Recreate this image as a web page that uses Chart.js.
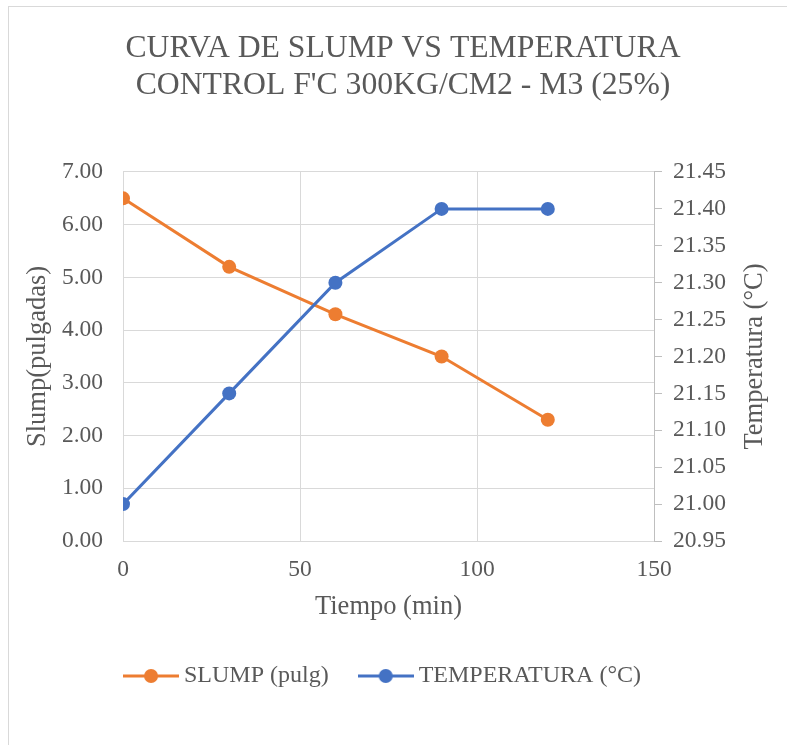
<!DOCTYPE html>
<html>
<head>
<meta charset="utf-8">
<script src="https://cdn.jsdelivr.net/npm/chart.js@4.4.0/dist/chart.umd.min.js"></script>
<style>
  html, body { margin: 0; padding: 0; background: #fff; overflow: hidden; width: 787px; height: 745px; }
  #frame { position: absolute; left: 8px; top: 6px; width: 800px; height: 760px; border: 1px solid #d9d9d9; }
  #chart { display: block; }
</style>
</head>
<body>
<div id="frame"><canvas id="chart" width="800" height="760"></canvas></div>
<script>
// Datos del ensayo
const tiempos = [0, 30, 60, 90, 120];
const slump = [6.5, 5.2, 4.3, 3.5, 2.3];
const temperatura = [21.00, 21.15, 21.30, 21.40, 21.40];
const nombres = ['SLUMP (pulg)', 'TEMPERATURA (°C)'];
const titulo = ['CURVA DE SLUMP VS TEMPERATURA', "CONTROL F'C 300KG/CM2 - M3 (25%)"];
const tituloDerecho = 'Temperatura (°C)';

const NARANJA = '#ed7d31';
const AZUL = '#4472c4';
const TEXTO = '#595959';
const REJILLA = '#d9d9d9';
const FUENTE = 'Liberation Serif';

// icono de leyenda: linea con marcador circular
function iconoLeyenda(color) {
    const c = document.createElement('canvas');
    c.width = 56; c.height = 16;
    const g = c.getContext('2d');
    g.strokeStyle = color;
    g.lineWidth = 3;
    g.beginPath();
    g.moveTo(0, 8); g.lineTo(56, 8);
    g.stroke();
    g.fillStyle = color;
    g.beginPath();
    g.arc(28, 8, 7, 0, Math.PI * 2);
    g.fill();
    return c;
}
const iconos = [iconoLeyenda(NARANJA), iconoLeyenda(AZUL)];

// desplaza la leyenda a la izquierda y pone el titulo del eje derecho leyendo hacia arriba
const ajustes = {
    id: 'ajustes',
    afterLayout(chart) {
        if (chart.legend) chart.legend.left -= 35;
    },
    afterDraw(chart) {
        const s = chart.scales.y2;
        const a = chart.chartArea;
        const g = chart.ctx;
        g.save();
        g.translate(s.right - 30, (a.top + a.bottom) / 2);
        g.rotate(-Math.PI / 2);
        g.textAlign = 'center';
        g.textBaseline = 'middle';
        g.font = '26.5px "' + FUENTE + '"';
        g.fillStyle = TEXTO;
        g.fillText(tituloDerecho, 0, 0);
        g.restore();
    }
};

const ctx = document.getElementById('chart').getContext('2d');
const chart = new Chart(ctx, {
    type: 'line',
    data: {
        datasets: [{
            label: nombres[0],
            data: tiempos.map((t, i) => ({ x: t, y: slump[i] })),
            yAxisID: 'y',
            borderColor: NARANJA,
            backgroundColor: NARANJA,
            borderWidth: 3,
            pointRadius: 7,
            pointBorderWidth: 0,
            pointBackgroundColor: NARANJA,
            order: 2
        }, {
            label: nombres[1],
            data: tiempos.map((t, i) => ({ x: t, y: temperatura[i] })),
            yAxisID: 'y2',
            borderColor: AZUL,
            backgroundColor: AZUL,
            borderWidth: 3,
            pointRadius: 7,
            pointBorderWidth: 0,
            pointBackgroundColor: AZUL,
            order: 1
        }]
    },
    options: {
        responsive: false,
        animation: false,
        layout: { padding: { left: 12, right: 24, top: 0, bottom: 69 } },
        plugins: {
            title: {
                display: true,
                text: titulo,
                color: TEXTO,
                font: { family: FUENTE, size: 31.7, weight: 'normal', lineHeight: 1.17 },
                padding: { top: 23.5, bottom: 67.3 }
            },
            legend: {
                position: 'bottom',
                labels: {
                    usePointStyle: true,
                    pointStyleWidth: 42,
                    padding: 36,
                    color: TEXTO,
                    font: { family: FUENTE, size: 24 },
                    generateLabels: function(chart) {
                        return chart.data.datasets.map((ds, i) => ({
                            text: ds.label,
                            fillStyle: ds.borderColor,
                            strokeStyle: ds.borderColor,
                            fontColor: TEXTO,
                            lineWidth: 0,
                            pointStyle: iconos[i],
                            datasetIndex: i,
                            hidden: false
                        }));
                    }
                }
            },
            tooltip: { enabled: false }
        },
        scales: {
            x: {
                type: 'linear',
                min: 0,
                max: 150,
                ticks: {
                    stepSize: 50,
                    padding: 15,
                    color: TEXTO,
                    font: { family: FUENTE, size: 23.5 }
                },
                grid: { color: REJILLA, drawTicks: false },
                border: { color: REJILLA },
                title: {
                    display: true,
                    text: 'Tiempo (min)',
                    color: TEXTO,
                    font: { family: FUENTE, size: 26.5 },
                    padding: { top: 4, bottom: 5 }
                },
                afterFit: s => { s.height = 87; }
            },
            y: {
                position: 'left',
                min: 0,
                max: 7,
                ticks: {
                    stepSize: 1,
                    padding: 20,
                    color: TEXTO,
                    font: { family: FUENTE, size: 23.5 },
                    callback: v => v.toFixed(2)
                },
                grid: { color: REJILLA, drawTicks: false },
                border: { color: REJILLA },
                title: {
                    display: true,
                    text: 'Slump(pulgadas)',
                    color: TEXTO,
                    font: { family: FUENTE, size: 26.5 },
                    padding: { top: 1, bottom: 0 }
                },
                afterFit: s => { s.width = 102; }
            },
            y2: {
                position: 'right',
                min: 20.95,
                max: 21.45,
                ticks: {
                    stepSize: 0.05,
                    padding: 11,
                    color: TEXTO,
                    font: { family: FUENTE, size: 23.5 },
                    callback: v => v.toFixed(2)
                },
                grid: { drawOnChartArea: false, drawTicks: true, tickLength: 8, color: '#bfbfbf' },
                border: { color: '#bfbfbf' },
                afterFit: s => { s.width = 131; }
            }
        }
    },
    plugins: [ajustes]
});
</script>
</body>
</html>
